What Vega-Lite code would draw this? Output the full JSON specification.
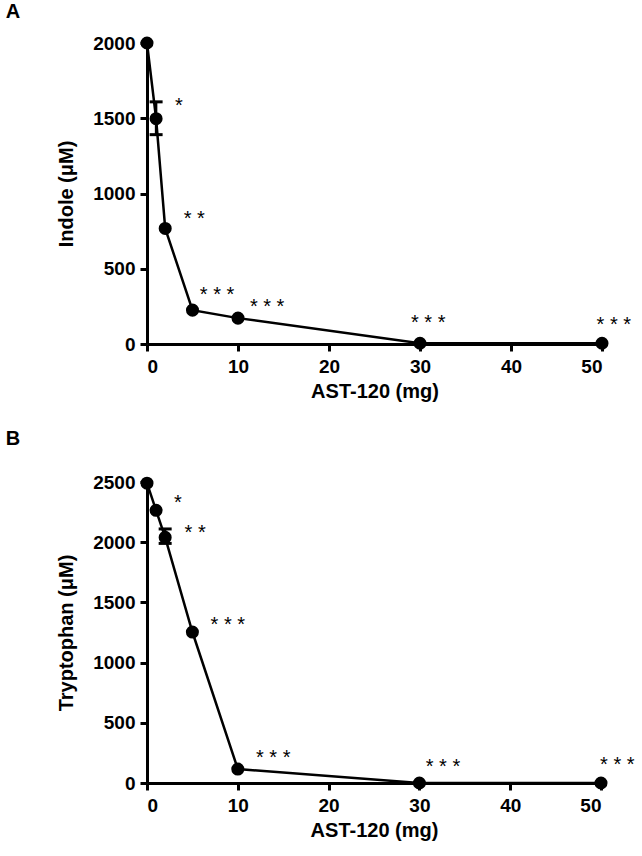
{
  "$schema": "https://vega.github.io/schema/vega-lite/v6.json",
  "background": "white",
  "padding": {"left": 5, "top": 2, "right": 5, "bottom": 5},
  "spacing": 28,
  "config": {
    "font": "Liberation Sans",
    "view": {"stroke": null},
    "axis": {
      "grid": false,
      "domainColor": "black", "domainWidth": 3,
      "tickColor": "black", "tickWidth": 3, "tickSize": 7,
      "labelFont": "Liberation Sans", "labelFontWeight": "bold", "labelFontSize": 19, "labelColor": "black",
      "titleFont": "Liberation Sans", "titleFontWeight": "bold", "titleFontSize": 20, "titleColor": "black",
      "format": "d"
    },
    "axisX": {"labelPadding": 6, "titlePadding": 5},
    "axisY": {"labelPadding": 5, "titlePadding": 16},
    "title": {"font": "Liberation Sans", "fontWeight": "bold", "fontSize": 20, "anchor": "start", "frame": "bounds", "color": "black"}
  },
  "datasets": {
    "a": [
      {"x": 0, "y": 2000}, {"x": 1, "y": 1497}, {"x": 2, "y": 768}, {"x": 5, "y": 225},
      {"x": 10, "y": 172}, {"x": 30, "y": 5}, {"x": 50, "y": 5}
    ],
    "a_err": [{"x": 1, "lo": 1391, "hi": 1609}],
    "a_star": [
      {"x": 3.5, "y": 1622, "label": "*"},
      {"x": 5.2, "y": 868, "label": "* *"},
      {"x": 7.7, "y": 364, "label": "* * *"},
      {"x": 13.2, "y": 285, "label": "* * *"},
      {"x": 30.9, "y": 179, "label": "* * *"},
      {"x": 51.3, "y": 165, "label": "* * *"}
    ],
    "b": [
      {"x": 0, "y": 2490}, {"x": 1, "y": 2265}, {"x": 2, "y": 2040}, {"x": 5, "y": 1254},
      {"x": 10, "y": 116}, {"x": 30, "y": 0}, {"x": 50, "y": 0}
    ],
    "b_err": [{"x": 2, "lo": 1990, "hi": 2110}],
    "b_star": [
      {"x": 3.4, "y": 2375, "label": "*"},
      {"x": 5.3, "y": 2126, "label": "* *"},
      {"x": 8.9, "y": 1362, "label": "* * *"},
      {"x": 13.9, "y": 257, "label": "* * *"},
      {"x": 32.6, "y": 183, "label": "* * *"},
      {"x": 51.8, "y": 200, "label": "* * *"}
    ]
  },
  "vconcat": [
    {
      "title": {"text": "A", "dx": -51, "offset": 12},
      "width": 455, "height": 301,
      "encoding": {
        "x": {"field": "x", "type": "quantitative", "scale": {"domain": [0, 50], "nice": false},
              "axis": {"values": [0, 10, 20, 30, 40, 50], "title": "AST-120 (mg)"}},
        "y": {"field": "y", "type": "quantitative", "scale": {"domain": [0, 2000], "nice": false},
              "axis": {"values": [0, 500, 1000, 1500, 2000], "title": "Indole (μM)"}}
      },
      "layer": [
        {"data": {"name": "a"}, "mark": {"type": "line", "color": "black", "strokeWidth": 2.5}},
        {"data": {"name": "a_err"}, "mark": {"type": "errorbar", "rule": {"color": "black", "strokeWidth": 2.5, "opacity": 1}, "ticks": {"size": 13, "thickness": 3, "color": "black", "opacity": 1}},
         "encoding": {"y": {"field": "lo", "type": "quantitative"}, "y2": {"field": "hi"}}},
        {"data": {"name": "a"}, "mark": {"type": "point", "filled": true, "color": "black", "opacity": 1, "size": 170}},
        {"data": {"name": "a_star"}, "mark": {"type": "text", "fontSize": 20, "color": "black", "align": "center", "baseline": "alphabetic", "dy": 12},
         "encoding": {"text": {"field": "label"}}}
      ]
    },
    {
      "title": {"text": "B", "dx": -51, "offset": 24},
      "width": 454, "height": 301,
      "encoding": {
        "x": {"field": "x", "type": "quantitative", "scale": {"domain": [0, 50], "nice": false},
              "axis": {"values": [0, 10, 20, 30, 40, 50], "title": "AST-120 (mg)"}},
        "y": {"field": "y", "type": "quantitative", "scale": {"domain": [0, 2500], "nice": false},
              "axis": {"values": [0, 500, 1000, 1500, 2000, 2500], "title": "Tryptophan (μM)"}}
      },
      "layer": [
        {"data": {"name": "b"}, "mark": {"type": "line", "color": "black", "strokeWidth": 2.5}},
        {"data": {"name": "b_err"}, "mark": {"type": "errorbar", "rule": {"color": "black", "strokeWidth": 2.5, "opacity": 1}, "ticks": {"size": 13, "thickness": 3, "color": "black", "opacity": 1}},
         "encoding": {"y": {"field": "lo", "type": "quantitative"}, "y2": {"field": "hi"}}},
        {"data": {"name": "b"}, "mark": {"type": "point", "filled": true, "color": "black", "opacity": 1, "size": 170}},
        {"data": {"name": "b_star"}, "mark": {"type": "text", "fontSize": 20, "color": "black", "align": "center", "baseline": "alphabetic", "dy": 12},
         "encoding": {"text": {"field": "label"}}}
      ]
    }
  ]
}
